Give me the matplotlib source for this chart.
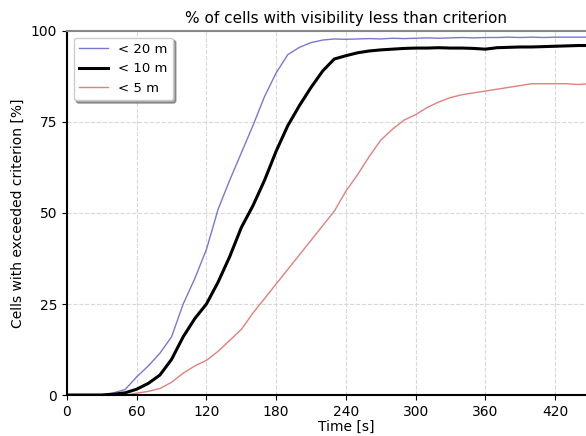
import matplotlib
matplotlib.use("Agg")
import matplotlib.pyplot as plt
import numpy as np

# time axis [s], 10 s steps
time_s = np.arange(0, 490, 10)

# % of cells below each visibility criterion
vis_20m = [0, 0, 0, 0.1, 0.6, 1.5, 5, 8, 11.5, 16,
           25, 32, 40, 51, 59, 66.5, 74, 82, 88.5, 93.5,
           95.5, 96.8, 97.5, 97.8, 97.7, 97.8, 97.9, 97.8, 98, 97.9,
           98, 98.1, 98, 98.1, 98.2, 98.1, 98.2, 98.2, 98.3, 98.2,
           98.3, 98.2, 98.3, 98.3, 98.3, 98.3, 98.3, 98.3, 98.3]
vis_10m = [0, 0, 0, 0, 0.2, 0.6, 1.6, 3.2, 5.5, 9.8,
           16, 21, 25, 31, 38, 46, 52, 59, 67, 74,
           79.5, 84.5, 89, 92.3, 93.2, 94, 94.5, 94.8, 95, 95.2,
           95.3, 95.3, 95.4, 95.3, 95.3, 95.2, 95, 95.4, 95.5, 95.6,
           95.6, 95.7, 95.8, 95.9, 96, 96, 96, 96, 96]
vis_5m = [0, 0, 0, 0, 0, 0, 0.5, 1, 1.8, 3.5,
          6, 8, 9.5, 12, 15, 18, 22.5, 26.5, 30.5, 34.5,
          38.5, 42.5, 46.5, 50.5, 56, 60.5, 65.5, 70, 73, 75.5,
          77, 79, 80.5, 81.7, 82.5, 83, 83.5, 84, 84.5, 85,
          85.5, 85.5, 85.5, 85.5, 85.3, 85.5, 85.5, 85.5, 85.5]

fig = plt.figure(figsize=(5.86, 4.36), dpi=100)
ax = fig.add_axes([0.1143, 0.094, 0.952, 0.835])

ax.plot(time_s, vis_20m, color='#7878d0', lw=1.0, label='< 20 m')
ax.plot(time_s, vis_10m, color='black', lw=2.2, label='< 10 m')
ax.plot(time_s, vis_5m, color='#e08080', lw=1.0, label='< 5 m')

ax.set_xlim(0, 480)
ax.set_ylim(0, 100)
ax.set_xticks(np.arange(0, 421, 60))
ax.set_yticks([0, 25, 50, 75, 100])
ax.grid(True, ls='--', color='#d8d8d8', lw=0.8)
ax.tick_params(labelsize=10)

for side in ['left', 'bottom']:
    ax.spines[side].set_linewidth(1.5)
ax.spines['top'].set_color('#888888')
ax.spines['top'].set_linewidth(1.5)

ax.set_title('% of cells with visibility less than criterion', fontsize=11)
ax.set_xlabel('Time [s]', fontsize=10, labelpad=1)
ax.set_ylabel('Cells with exceeded criterion [%]', fontsize=10)

ax.legend(loc='upper left', shadow=True, fontsize=9.5, framealpha=1,
          handlelength=2.2)

fig.savefig('out.png', dpi=100)
